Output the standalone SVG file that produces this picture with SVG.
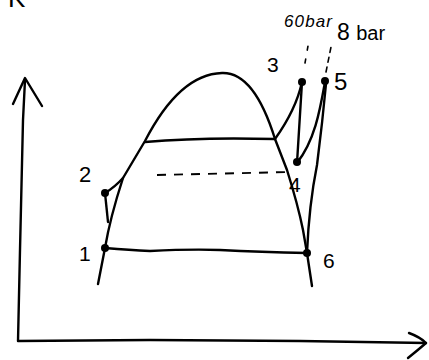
<svg xmlns="http://www.w3.org/2000/svg" width="429" height="360" viewBox="0 0 429 360">
<style>
.ln{fill:none;stroke:#000;stroke-width:2.4;stroke-linecap:round;stroke-linejoin:round}
.th{fill:none;stroke:#000;stroke-width:1.6;stroke-linecap:round}
.dash{fill:none;stroke:#000;stroke-width:1.9;stroke-dasharray:9 8}
.dot{fill:#000}
.lb{font-family:"Liberation Sans",Arial,sans-serif;fill:#000}
</style>
<rect width="429" height="360" fill="#fff"/>
<g id="axes">
<text class="lb" x="8" y="7" font-size="26">K</text>
<path class="ln" d="M25,80 L23,120 L20,250 L18,341 L150,340 L300,341 L426,343"/>
<path class="ln" d="M13,104 L25,78 L42,106"/>
<path class="ln" d="M409,333 Q420,337 426,343 Q418,350 408,358"/>
</g>
<g id="dome">
<path class="ln" d="M98,284 L105,248 Q110,218 123,178 L145,141 C160,112 185,74 222,73 C250,72 266,110 275,139 L287,170 Q298,205 303,230 L307,253 L312,286"/>
</g>
<g id="connectors">
<path class="ln" d="M145,142 Q200,137 275,139"/>
<path class="ln" d="M275,139 C285,125 297,105 302,82"/>
<path class="ln" d="M302,82 L297,163"/>
<path class="ln" d="M325,82 C320,110 315,140 297,163"/>
<path class="ln" d="M326,84 L322,123 L317,165 Q309,205 307,253"/>
<path class="dash" d="M157,175 L290,172"/>
<path class="ln" d="M105,193 Q115,187 123,178"/>
<path class="ln" d="M105,193 L108,222"/>
<path class="ln" d="M105,248 Q130,250 150,251 Q190,249 220,250 Q260,252 307,253"/>
<path class="th" d="M305,63 L308,46" stroke-dasharray="4 9"/>
<path class="th" d="M326,72 L331,47" stroke-dasharray="5 5"/>
</g>
<g id="p1"><circle class="dot" cx="105" cy="248" r="4"/><text class="lb" x="79" y="261" font-size="21">1</text></g>
<g id="p2"><circle class="dot" cx="105" cy="193" r="4"/><text class="lb" x="79" y="182" font-size="22">2</text></g>
<g id="p3"><circle class="dot" cx="302" cy="82" r="4"/><text class="lb" x="267" y="72" font-size="21">3</text></g>
<g id="p4"><circle class="dot" cx="297" cy="162" r="4"/><text class="lb" x="289" y="192" font-size="21">4</text></g>
<g id="p5"><circle class="dot" cx="325" cy="81" r="4"/><text class="lb" x="334" y="90" font-size="24">5</text></g>
<g id="p6"><circle class="dot" cx="307" cy="253" r="4"/><text class="lb" x="323" y="268" font-size="21">6</text></g>
<g id="labels">
<text class="lb" x="284" y="27" font-size="17" font-style="italic" textLength="48">60bar</text>
<text class="lb" x="337" y="40" font-size="23">8 <tspan font-size="20">bar</tspan></text>
</g>
</svg>
